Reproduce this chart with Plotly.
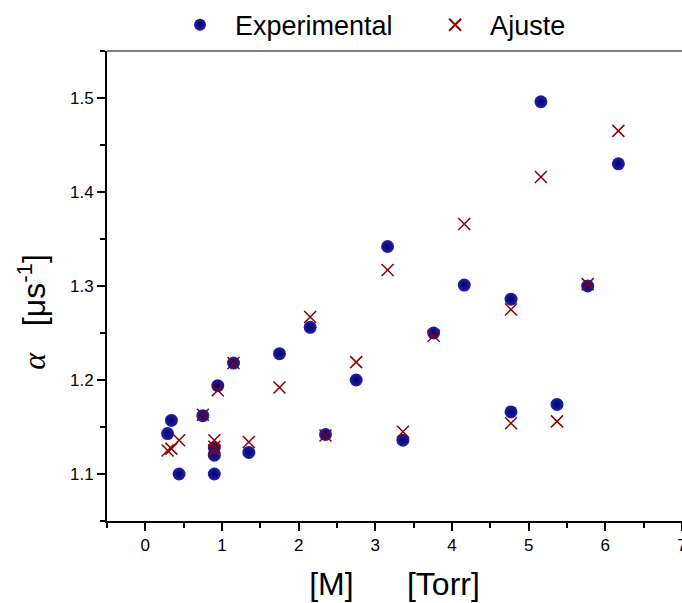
import plotly.graph_objects as go

# Data
m_torr = [0.29, 0.34, 0.44, 0.75, 0.90, 0.90, 0.90, 0.945, 1.15, 1.35, 1.75, 2.15,
          2.35, 2.75, 3.16, 3.36, 3.76, 4.16, 4.77, 4.77, 5.16, 5.37, 5.77, 6.17]
alpha_exp = [1.143, 1.157, 1.100, 1.162, 1.100, 1.120, 1.128, 1.194, 1.218, 1.123, 1.228, 1.256,
             1.142, 1.200, 1.342, 1.136, 1.250, 1.301, 1.286, 1.166, 1.496, 1.174, 1.300, 1.430]
alpha_fit = [1.125, 1.127, 1.136, 1.163, 1.136, 1.129, 1.125, 1.189, 1.218, 1.134, 1.192, 1.267,
             1.141, 1.219, 1.317, 1.145, 1.247, 1.366, 1.275, 1.154, 1.416, 1.156, 1.302, 1.465]

FONT = "Liberation Sans, Arial, sans-serif"
NB = "\u00a0"

fig = go.Figure()
fig.add_trace(go.Scatter(
    x=m_torr, y=alpha_exp, mode="markers", name=NB * 2 + "Experimental" + NB * 5,
    marker=dict(symbol="circle", size=13, color="#2222a8",
                gradient=dict(type="radial", color="#00006a"),
                line=dict(width=0)),
))
fig.add_trace(go.Scatter(
    x=m_torr, y=alpha_fit, mode="markers", name=NB * 2 + "Ajuste",
    marker=dict(symbol="x-thin-open", size=12, color="#8b0000",
                line=dict(width=1.5, color="#8b0000")),
))

fig.update_layout(
    width=682, height=603,
    margin=dict(l=107, r=0, t=51, b=82, autoexpand=False),
    paper_bgcolor="white", plot_bgcolor="white",
    font=dict(family=FONT, color="black", size=17),
    showlegend=True,
    legend=dict(orientation="h", x=0.127, xanchor="left", y=1.055, yanchor="middle",
                font=dict(size=27, family=FONT), bgcolor="rgba(0,0,0,0)",
                itemsizing="constant"),
    xaxis=dict(range=[-0.5, 7.0], tick0=0, dtick=1, ticks="outside", ticklen=8,
               tickwidth=1.5, tickcolor="black", showline=True, linecolor="black",
               linewidth=2, showgrid=False, zeroline=False, ticklabeloverflow="allow",
               tickfont=dict(size=17, family=FONT),
               minor=dict(dtick=0.5, tick0=0, ticks="outside", ticklen=5,
                          tickwidth=1.5, tickcolor="black", showgrid=False),
               title=dict(text="[M]" + NB * 6 + "[Torr]", font=dict(size=32, family=FONT),
                          standoff=18)),
    yaxis=dict(range=[1.05, 1.55], tick0=1.1, dtick=0.1, ticks="outside", ticklen=8,
               tickwidth=1.5, tickcolor="black", showline=True, linecolor="black",
               linewidth=2, showgrid=False, zeroline=False,
               tickfont=dict(size=17, family=FONT),
               minor=dict(dtick=0.05, tick0=1.05, ticks="outside", ticklen=5,
                          tickwidth=1.5, tickcolor="black", showgrid=False)),
    shapes=[dict(type="line", xref="paper", yref="paper", x0=0, x1=1, y0=1, y1=1,
                 line=dict(color="#7f7f7f", width=2))],
    annotations=[dict(
        text="<span style=\"font-family:'Liberation Serif'\"><i>α</i></span>" + NB * 3 + "[μs<sup>-1</sup>]",
        xref="paper", yref="paper", x=-0.13, y=0.446, xanchor="center", yanchor="middle",
        textangle=-90, showarrow=False, font=dict(size=32, family=FONT))],
)

fig.write_html("out.html", config={"displayModeBar": False},
               post_script="document.body.style.margin='0';document.body.style.overflow='hidden';")
